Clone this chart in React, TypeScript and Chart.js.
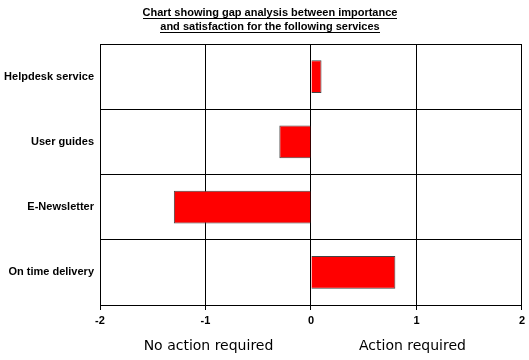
import React, { useEffect, useRef } from "react";
import { Chart, registerables } from "chart.js";

Chart.register(...registerables);

const categories = ["Helpdesk service", "User guides", "E-Newsletter", "On time delivery"];
const gapValues = [0.1, -0.3, -1.3, 0.8];
const titleLines = [
  "Chart showing gap analysis between importance",
  "and satisfaction for the following services",
];
const xMin = -2;
const xMax = 2;
const leftNote = "No action required";
const rightNote = "Action required";

const FONT = "'Liberation Sans', Arial, sans-serif";
const NOTE_FONT = "'DejaVu Sans', Verdana, sans-serif";

const decorPlugin = {
  id: "decor",
  afterDraw(chart: any) {
    const ctx = chart.ctx;
    const x = chart.scales.x;
    ctx.save();
    ctx.fillStyle = "#000";
    ctx.strokeStyle = "#000";
    ctx.font = `bold 11px ${FONT}`;
    ctx.textAlign = "center";
    ctx.textBaseline = "alphabetic";
    const cx = 270;
    titleLines.forEach((line, i) => {
      const baseY = 16 + i * 14;
      ctx.fillText(line, cx, baseY);
      const w = ctx.measureText(line).width;
      ctx.lineWidth = 1;
      ctx.beginPath();
      ctx.moveTo(Math.round(cx - w / 2), baseY + 2.5);
      ctx.lineTo(Math.round(cx + w / 2), baseY + 2.5);
      ctx.stroke();
    });
    ctx.font = `14px ${NOTE_FONT}`;
    ctx.textBaseline = "middle";
    ctx.fillText(leftNote, x.getPixelForValue(-1) + 3, 346);
    ctx.fillText(rightNote, x.getPixelForValue(1) - 4, 346);
    ctx.restore();
  },
};

export default function App() {
  const ref = useRef<HTMLCanvasElement>(null);
  useEffect(() => {
    document.body.style.margin = "0";
    const chart = new Chart(ref.current!, {
      type: "bar",
      data: {
        labels: categories,
        datasets: [
          {
            data: gapValues,
            backgroundColor: "#FF0000",
            borderColor: "#444444",
            borderWidth: 1,
            barPercentage: 0.5,
            categoryPercentage: 1,
          },
        ],
      },
      options: {
        indexAxis: "y",
        animation: false,
        responsive: false,
        layout: { padding: { top: 44, right: 7, left: 0, bottom: 0 } },
        plugins: {
          legend: { display: false },
          tooltip: { enabled: false },
          title: { display: false },
        },
        scales: {
          x: {
            min: xMin,
            max: xMax,
            ticks: {
              stepSize: 1,
              color: "#000",
              font: { family: FONT, size: 11, weight: "bold" },
              padding: 4,
            },
            grid: { color: "#000", lineWidth: 1, tickLength: 5 },
            border: { color: "#000", width: 1 },
            afterFit(scale: any) {
              scale.height = 55;
            },
          },
          y: {
            ticks: {
              color: "#000",
              font: { family: FONT, size: 11, weight: "bold" },
              padding: 6,
            },
            grid: { color: "#000", lineWidth: 1, drawTicks: false, offset: true },
            border: { color: "#000", width: 1 },
            afterFit(scale: any) {
              scale.width = 100;
            },
          },
        },
      },
      plugins: [decorPlugin],
    });
    return () => chart.destroy();
  }, []);
  return (
    <div style={{ position: "absolute", left: 0, top: 0, width: 529, height: 360, background: "#fff" }}>
      <canvas ref={ref} width={529} height={360} />
    </div>
  );
}
